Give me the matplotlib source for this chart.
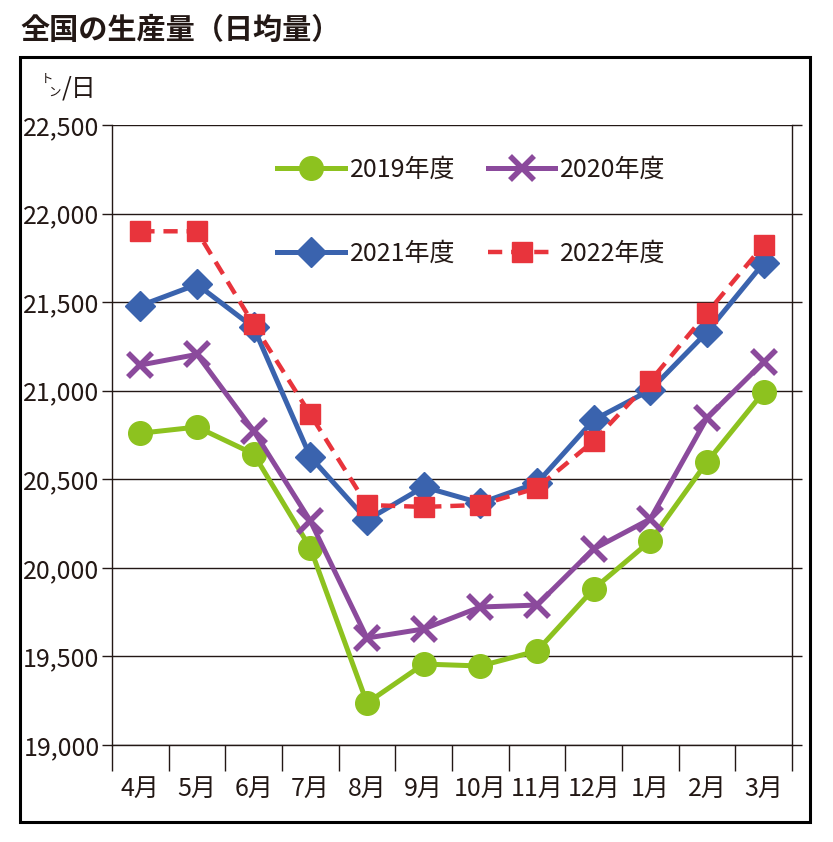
import matplotlib
matplotlib.use("Agg")
import matplotlib.pyplot as plt
from matplotlib.patches import Rectangle

months = ["4月", "5月", "6月", "7月", "8月", "9月", "10月", "11月", "12月", "1月", "2月", "3月"]

fy2019 = [20760, 20795, 20643, 20112, 19237, 19457, 19446, 19531, 19881, 20152, 20598, 20993]
fy2020 = [21145, 21205, 20773, 20265, 19604, 19655, 19779, 19790, 20107, 20276, 20846, 21162]
fy2021 = [21480, 21600, 21357, 20627, 20270, 20457, 20366, 20479, 20835, 21004, 21331, 21721]
fy2022 = [21900, 21900, 21374, 20866, 20355, 20344, 20355, 20451, 20716, 21055, 21439, 21823]

yticks = [19000, 19500, 20000, 20500, 21000, 21500, 22000, 22500]

plt.rcParams["font.family"] = ["Noto Sans CJK JP", "DejaVu Sans"]
plt.rcParams["font.size"] = 18
plt.rcParams["axes.linewidth"] = 1.0

fig = plt.figure(figsize=(8.33, 8.42), dpi=100)
ax = fig.add_axes([112 / 833, 1 - 745 / 842, (792 - 112) / 833, (745 - 125) / 842])

x = list(range(len(months)))

ax.plot(x, fy2019, "-", color="#8dc21f", lw=3.6, marker="o", ms=17, label="2019年度", zorder=3)
ax.plot(x, fy2020, "-", color="#8b4a9c", lw=3.6, marker="x", ms=17, mew=4, label="2020年度", zorder=4)
ax.plot(x, fy2021, "-", color="#3a63ae", lw=3.6, marker="D", ms=15, label="2021年度", zorder=5)
ax.plot(x, fy2022, "--", color="#e8343c", lw=3.2, marker="s", ms=15, dashes=(3.2, 2.0),
        label="2022年度", zorder=6)

ax.set_xlim(-0.5, len(months) - 0.5)
ax.set_ylim(19000, 22500)

ax.set_yticks(yticks)
ax.set_yticklabels(["{:,}".format(v) for v in yticks], fontsize=18)
ax.yaxis.grid(True, color="#231815", lw=1.0)
ax.tick_params(axis="y", direction="out", length=7, width=1.0, right=True, color="#231815",
               pad=2, labelcolor="#231815")

# x ticks at the boundaries, labels at the centres
ax.set_xticks([i - 0.5 for i in range(len(months) + 1)])
ax.set_xticklabels([])
ax.set_xticks(x, minor=True)
ax.set_xticklabels(months, minor=True, fontsize=18, color="#231815")
ax.tick_params(axis="x", which="major", direction="out", length=19, width=1.0, color="#231815")
ax.tick_params(axis="x", which="minor", length=0, pad=22)

for s in ax.spines.values():
    s.set_color("#231815")
ax.spines["top"].set_visible(False)

h, l = ax.get_legend_handles_labels()
order = [0, 2, 1, 3]
leg = ax.legend([h[i] for i in order], [l[i] for i in order], ncol=2, frameon=False,
                loc="upper left", bbox_to_anchor=(0.21, 0.985), fontsize=18,
                labelspacing=2.3, handlelength=2.7, handletextpad=0.2, columnspacing=1.3)
for t in leg.get_texts():
    t.set_color("#231815")

# outer frame
fig.patches.append(Rectangle((20 / 833, 1 - 822 / 842), 790 / 833, 765 / 842, transform=fig.transFigure,
                             fill=False, lw=2.2, edgecolor="#000000"))

fig.text(20 / 833, 1 - 30 / 842, "全国の生産量（日均量）", fontsize=21, fontweight="bold",
         va="center", ha="left", color="#231815")
fig.text(41 / 833, 1 - 79 / 842, "ト", fontsize=9, va="center", color="#231815")
fig.text(48 / 833, 1 - 92 / 842, "ン", fontsize=9, va="center", color="#231815")
fig.text(62 / 833, 1 - 88 / 842, "/日", fontsize=18, va="center", color="#231815")

plt.savefig("out.png", dpi=100)
